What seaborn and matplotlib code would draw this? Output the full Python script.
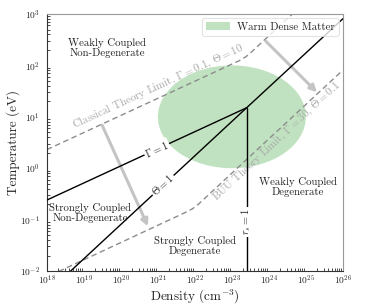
import numpy as np
import pandas as pd
import matplotlib
matplotlib.use("Agg")
import matplotlib.pyplot as plt
from matplotlib.patches import Ellipse, Patch
import seaborn as sns

# ---- data ----
gamma1_n = [1e18, 2.5e23]
gamma1_T = [0.24, 15.0]

theta1_n = [4.4e18, 2.5e23, 1e26]
theta1_T = [0.01, 15.0, 810.0]

rs1_n = [2.5e23, 2.5e23]
rs1_T = [0.01, 15.0]

classical_n = [1e18, 1.6e23, 2.4e23, 3.2e23, 4.3e24]
classical_T = [2.3, 124.0, 148.0, 176.0, 1000.0]

buu_n = [2.1e18, 5e21, 8.7e21, 1.3e22, 1e26]
buu_T = [0.0098, 0.133, 0.163, 0.205, 81.0]

wdm_center = (1e23, 10.0)
wdm_n_span = (1e21, 1e25)
wdm_T_span = (1.0, 100.0)

arrow1 = ((3.1e19, 6.9), (5.4e20, 0.074))
arrow2 = ((8.3e23, 295.0), (2.0e25, 30.0))

region_labels = ["Weakly Coupled\nNon-Degenerate", "Strongly Coupled\nNon-Degenerate",
                 "Strongly Coupled\nDegenerate", "Weakly Coupled\nDegenerate"]
region_n = [4.2e19, 1.5e19, 1e22, 6e24]
region_T = [220.0, 0.135, 0.03, 0.43]

x_ticks = [1e18, 1e19, 1e20, 1e21, 1e22, 1e23, 1e24, 1e25, 1e26]
y_ticks = [1e-2, 1e-1, 1e0, 1e1, 1e2, 1e3]
xlim = (1e18, 1e26)
ylim = (1e-2, 1e3)

# ---- style ----
sns.set_theme(style="white")
plt.rcParams["font.family"] = "serif"
plt.rcParams["font.serif"] = ["cmr10", "DejaVu Serif"]
plt.rcParams["mathtext.fontset"] = "cm"
plt.rcParams["axes.formatter.use_mathtext"] = True
plt.rcParams["axes.unicode_minus"] = False

fig = plt.figure(figsize=(3.81, 3.05), dpi=100)
ax = fig.add_axes([0.123, 0.1115, 0.777, 0.8425])
ax.set_xscale("log")
ax.set_yscale("log")
ax.set_xticks(x_ticks)
ax.set_yticks(y_ticks)
ax.set_xlim(*xlim)
ax.set_ylim(*ylim)

# warm dense matter ellipse, placed through the axes' own log scales
to_axes = ax.transData + ax.transAxes.inverted()
c = to_axes.transform(wdm_center)
w = to_axes.transform((wdm_n_span[1], wdm_center[1]))[0] - to_axes.transform((wdm_n_span[0], wdm_center[1]))[0]
h = to_axes.transform((wdm_center[0], wdm_T_span[1]))[1] - to_axes.transform((wdm_center[0], wdm_T_span[0]))[1]
green = "#c0e2c0"
ax.add_patch(Ellipse(c, w, h, transform=ax.transAxes, facecolor=green, edgecolor="none", zorder=1))

kw = dict(ax=ax, sort=False, estimator=None, legend=False)
sns.lineplot(x=classical_n, y=classical_T, color="#8c8c8c", lw=1.0, linestyle=(0, (4, 2.5)), zorder=2, **kw)
sns.lineplot(x=buu_n, y=buu_T, color="#8c8c8c", lw=1.0, linestyle=(0, (4, 2.5)), zorder=2, **kw)
sns.lineplot(x=gamma1_n, y=gamma1_T, color="black", lw=1.0, zorder=3, **kw)
sns.lineplot(x=theta1_n, y=theta1_T, color="black", lw=1.0, zorder=3, **kw)
sns.lineplot(x=rs1_n, y=rs1_T, color="black", lw=1.0, zorder=3, **kw)

# inline line labels
lab_bbox = dict(facecolor="white", edgecolor="none", pad=0.8)
ax.text(9.3e20, 2.35, r"$\Gamma = 1$", rotation=24.8, ha="center", va="center",
        fontsize=7.5, bbox=lab_bbox, zorder=4, rotation_mode="anchor")
ax.text(1.38e21, 0.47, r"$\Theta = 1$", rotation=42.8, ha="center", va="center",
        fontsize=7.5, bbox=lab_bbox, zorder=4, rotation_mode="anchor")
ax.text(2.5e23, 0.09, r"$r_s = 1$", rotation=90, ha="center", va="center",
        fontsize=7.5, bbox=lab_bbox, zorder=4, rotation_mode="anchor")

# limit labels
ax.text(1.0e21, 38, r"Classical Theory Limit, $\Gamma = 0.1$, $\Theta = 10$", rotation=24.8,
        ha="center", va="center", fontsize=7.8, color="#a8a8a8", rotation_mode="anchor", zorder=2)
ax.text(1.6e24, 3.3, r"BUU Theory Limit, $\Gamma = 30$, $\Theta = 0.1$", rotation=42.8,
        ha="center", va="center", fontsize=7.8, color="#a8a8a8", rotation_mode="anchor", zorder=2)

# arrows
for (start, end) in (arrow1, arrow2):
    ax.annotate("", xy=end, xytext=start,
                arrowprops=dict(arrowstyle="-|>", color="#c4c4c4", lw=2.2, mutation_scale=10,
                                shrinkA=0, shrinkB=0), zorder=2)

for t, xn, yT in zip(region_labels, region_n, region_T):
    ax.text(xn, yT, t, ha="center", va="center", fontsize=7.8, color="#222222",
            linespacing=1.0, zorder=4)

ax.set_xlabel(r"Density (cm$^{-3}$)", fontsize=9.5)
ax.set_ylabel("Temperature (eV)", fontsize=9.5)
ax.xaxis.set_label_coords(0.5, -0.066)
ax.yaxis.set_label_coords(-0.09, 0.5)

ax.tick_params(which="both", direction="in", top=False, right=False, labelsize=6.8)
ax.tick_params(axis="x", pad=1.5)
ax.tick_params(axis="y", pad=5)
ax.tick_params(which="major", length=3.5, width=0.6, color="black")
ax.tick_params(which="minor", length=2, width=0.5, color="black", left=True, bottom=True)
ax.xaxis.set_minor_locator(matplotlib.ticker.LogLocator(base=10, subs=np.arange(2, 10), numticks=100))
ax.yaxis.set_minor_locator(matplotlib.ticker.LogLocator(base=10, subs=np.arange(2, 10), numticks=100))
ax.xaxis.set_minor_formatter(matplotlib.ticker.NullFormatter())
ax.yaxis.set_minor_formatter(matplotlib.ticker.NullFormatter())

for s in ("left", "bottom"):
    ax.spines[s].set_color("#333333")
    ax.spines[s].set_linewidth(0.8)
for s in ("top", "right"):
    ax.spines[s].set_color("#999999")
    ax.spines[s].set_linewidth(0.8)

leg = ax.legend(handles=[Patch(facecolor=green, edgecolor="none", label="Warm Dense Matter")],
                loc="upper right", fontsize=7.8, frameon=True, borderaxespad=0.4,
                handlelength=2.2, handleheight=0.7, borderpad=0.35, handletextpad=0.7)
leg.get_frame().set_edgecolor("#dddddd")
leg.get_frame().set_linewidth(0.8)
leg.set_zorder(5)

fig.savefig("out.png", dpi=100)
